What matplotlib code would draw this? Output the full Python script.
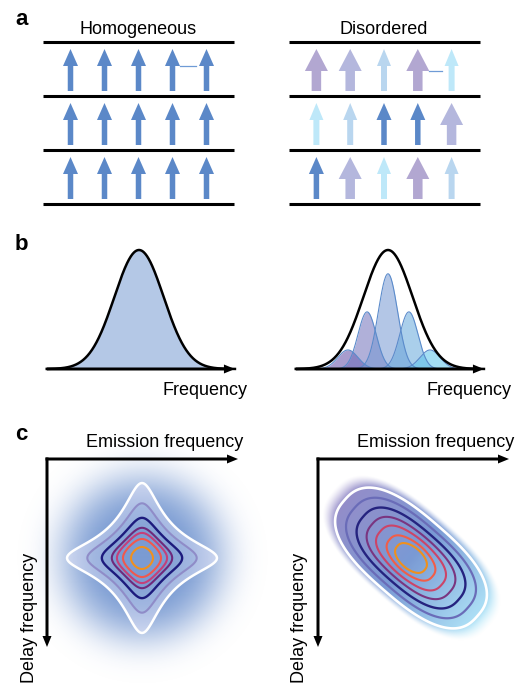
import numpy as np
import matplotlib.pyplot as plt
from matplotlib.colors import LinearSegmentedColormap, to_rgb

plt.rcParams['font.family'] = ['Liberation Sans', 'DejaVu Sans']

# ---- a: dipoles in the lattice ----
titles_a = ['Homogeneous', 'Disordered']
dipoles_homog = [['blue'] * 5 for _ in range(3)]
dipoles_disord = [['purple', 'lavender', 'sky', 'purple', 'cyan'],
                  ['cyan', 'sky', 'blue', 'blue', 'lavender'],
                  ['blue', 'lavender', 'cyan', 'purple', 'sky']]
dipole_colors = {'blue': '#5b88c8', 'purple': '#b2a7d1', 'lavender': '#b4b7dd',
                 'sky': '#b9d6ef', 'cyan': '#bee8f9'}
coupled_pair = (0, 3)  # row 0, dipole 3 coupled to dipole 4

# ---- b: linear spectra (frequency in units of the envelope width) ----
freq = np.linspace(-3.75, 3.9, 500)
site_centers = [-1.63, -0.85, 0.0, 0.85, 1.71]
site_heights = [0.16, 0.48, 0.80, 0.48, 0.16]
site_widths = [0.41, 0.37, 0.39, 0.37, 0.41]
site_colors = ['#a89cce', '#b0b0d9', '#b3c6e6', '#aacfec', '#a4def4']
homog_color = '#b4c8e6'

# ---- c: 2D spectra ----
homog_levels = [0.05, 0.09, 0.155, 0.245, 0.32, 0.45, 0.71]
disord_halfwidths = [3.0, 2.57, 2.16, 1.78, 1.44, 1.08, 0.78]
colors_homog = ['white', '#8f8cc8', '#1d1b7d', '#6e2a7c', '#c4407a', '#f0584e', '#f0901e']
colors_disord = ['white', '#6a6cb8', '#25237f', '#7a3580', '#cc4468', '#f25d48', '#f0901c']


def gauss(f, c, h, w):
    return h * np.exp(-0.5 * ((f - c) / w) ** 2)


def lorentz2d(x, y):
    return 1.0 / ((1 + x ** 2) * (1 + y ** 2))


def disorder2d(u, v, aspect=2.1, p=2.6, frac=0.2, rw=0.7):
    R = ((np.abs(u) / aspect) ** p + np.abs(v) ** p) ** (1 / p)
    return (1 - frac) * np.exp(-R ** 2 / 2) + frac * np.exp(-(u ** 2 + v ** 2) / (2 * rw ** 2))


def layer_color(target, a):
    c = (np.array(to_rgb(target)) - (1 - a)) / a
    return tuple(np.clip(c, 0, 1))


W, H = 521, 685
fig = plt.figure(figsize=(W / 100, H / 100), dpi=100)
ax = fig.add_axes([0, 0, 1, 1])

lbl = dict(fontsize=16, fontweight='bold', ha='left', va='baseline')
ax.text(15, 25, 'a', **lbl)
ax.text(15, 250, 'b', **lbl)
ax.text(15, 440, 'c', **lbl)

# panel a
line_y = [42, 96, 150, 204]
sizes = {'blue': (5.5, 15, 17), 'purple': (9.5, 23, 22), 'lavender': (9.5, 23, 22),
         'sky': (6, 14, 17), 'cyan': (6, 14, 17)}
for (cx, x0, x1, sp), title, rows in zip([(138.5, 43, 234, 34.0), (384, 289, 480, 33.8)],
                                         titles_a, [dipoles_homog, dipoles_disord]):
    ax.text(cx, 34, title, ha='center', va='baseline', fontsize=13)
    for y in line_y:
        ax.plot([x0, x1], [y, y], color='k', lw=2.2, solid_capstyle='butt')
    for r, row in enumerate(rows):
        tail = line_y[r + 1] - 5
        tip = line_y[r] + 7
        xs = cx + sp * (np.arange(len(row)) - (len(row) - 1) / 2)
        for x, key in zip(xs, row):
            w, hw, hl = sizes[key]
            ax.arrow(x, tail, 0, tip - tail, width=w, head_width=hw, head_length=hl,
                     length_includes_head=True, fc=dipole_colors[key], ec='none', zorder=3)
        if r == coupled_pair[0]:
            i = coupled_pair[1]
            k1, k2 = row[i], row[i + 1]
            yc = tip + sizes[k1][2]
            ax.plot([xs[i] + sizes[k1][1] / 2, xs[i + 1] - sizes[k2][1] / 2 - 3], [yc, yc],
                    color='#6f9bd6', lw=0.9, zorder=2)

# panel b
base_y, peak_px, sig_px = 369, 119, 24.6
env = gauss(freq, 0, 1, 1)
for k, cx in enumerate([139, 388]):
    xpx = cx + sig_px * freq
    ax.arrow(xpx[0], base_y, xpx[-1] - xpx[0], 0, width=3, head_width=9, head_length=11,
             length_includes_head=True, fc='k', ec='none', zorder=5)
    if k == 0:
        ax.fill_between(xpx, base_y, base_y - peak_px * env, color=homog_color, lw=0, zorder=2)
    else:
        for c, h, w, col in zip(site_centers, site_heights, site_widths, site_colors):
            prof = gauss(freq, c, h, w)
            ax.fill_between(xpx, base_y, base_y - peak_px * prof, color=layer_color(col, 0.55),
                            alpha=0.55, lw=0, zorder=2)
            ax.plot(xpx, base_y - peak_px * prof, color='#5b8bcb', lw=0.8, zorder=3)
    ax.plot(xpx, base_y - peak_px * env, color='k', lw=1.8, zorder=4)
ax.text(247, 395, 'Frequency', ha='right', va='baseline', fontsize=13)
ax.text(512, 395, 'Frequency', ha='right', va='baseline', fontsize=13)

# panel c axes
for ox in [47, 318]:
    ax.arrow(ox - 1.5, 459, 192.5, 0, width=3, head_width=9, head_length=11,
             length_includes_head=True, fc='k', ec='none', zorder=6)
    ax.arrow(ox, 457.5, 0, 189.5, width=3, head_width=9, head_length=11,
             length_includes_head=True, fc='k', ec='none', zorder=6)
    ax.text(ox + 196, 447, 'Emission frequency', ha='right', va='baseline', fontsize=13)
    ax.text(ox - 13.5, 618, 'Delay frequency', ha='center', va='baseline', fontsize=13,
            rotation=90, rotation_mode='anchor')

g = np.arange(-140, 141)
X, Y = np.meshgrid(g, g)

# homogeneous 2D spectrum
cx, cy, gl = 142, 558, 17.2
F = lorentz2d(X / gl, Y / gl)
img = np.zeros(X.shape + (4,))
img[..., :3] = to_rgb('#668ccc')
img[..., 3] = 0.9 * np.exp(-(np.hypot(X, Y) / 82) ** 4)
ax.imshow(img, extent=(cx - 140.5, cx + 140.5, cy + 140.5, cy - 140.5), origin='upper',
          interpolation='bilinear', aspect='auto', zorder=1)
ax.contourf(X + cx, Y + cy, F, levels=homog_levels[:4] + [1.01],
            colors=[(0.9, 0.9, 0.98, a) for a in (0.42, 0.3, 0.15, 0.05)], zorder=2)
ax.contour(X + cx, Y + cy, F, levels=homog_levels, colors=colors_homog,
           linewidths=[1.8, 1.5, 1.7, 1.5, 1.5, 1.5, 1.5], zorder=3)

# disordered 2D spectrum
cx, cy, s, th = 411, 558, 14, np.deg2rad(41)
U = (X * np.cos(th) + Y * np.sin(th)) / s
V = (-X * np.sin(th) + Y * np.cos(th)) / s
F2 = disorder2d(U, V)
levels2 = [disorder2d(0.0, w) for w in disord_halfwidths]
cmap = LinearSegmentedColormap.from_list('dis', ['#8a7fc2', '#6b8fd0', '#a8e3f8'])
img2 = cmap(np.clip((U * s / 95 + 1) / 2, 0, 1))
t = np.log(F2 / levels2[0])
img2[..., 3] = 0.9 * np.clip(1 + t / 1.7, 0, 1) ** 1.5
ax.imshow(img2, extent=(cx - 140.5, cx + 140.5, cy + 140.5, cy - 140.5), origin='upper',
          interpolation='bilinear', aspect='auto', zorder=1)
ax.contour(X + cx, Y + cy, F2, levels=levels2, colors=colors_disord,
           linewidths=[1.9, 1.6, 1.7, 1.5, 1.5, 1.5, 1.5], zorder=3)

ax.set_xlim(0, W)
ax.set_ylim(H, 0)
ax.axis('off')
fig.savefig('out.png', dpi=100)
